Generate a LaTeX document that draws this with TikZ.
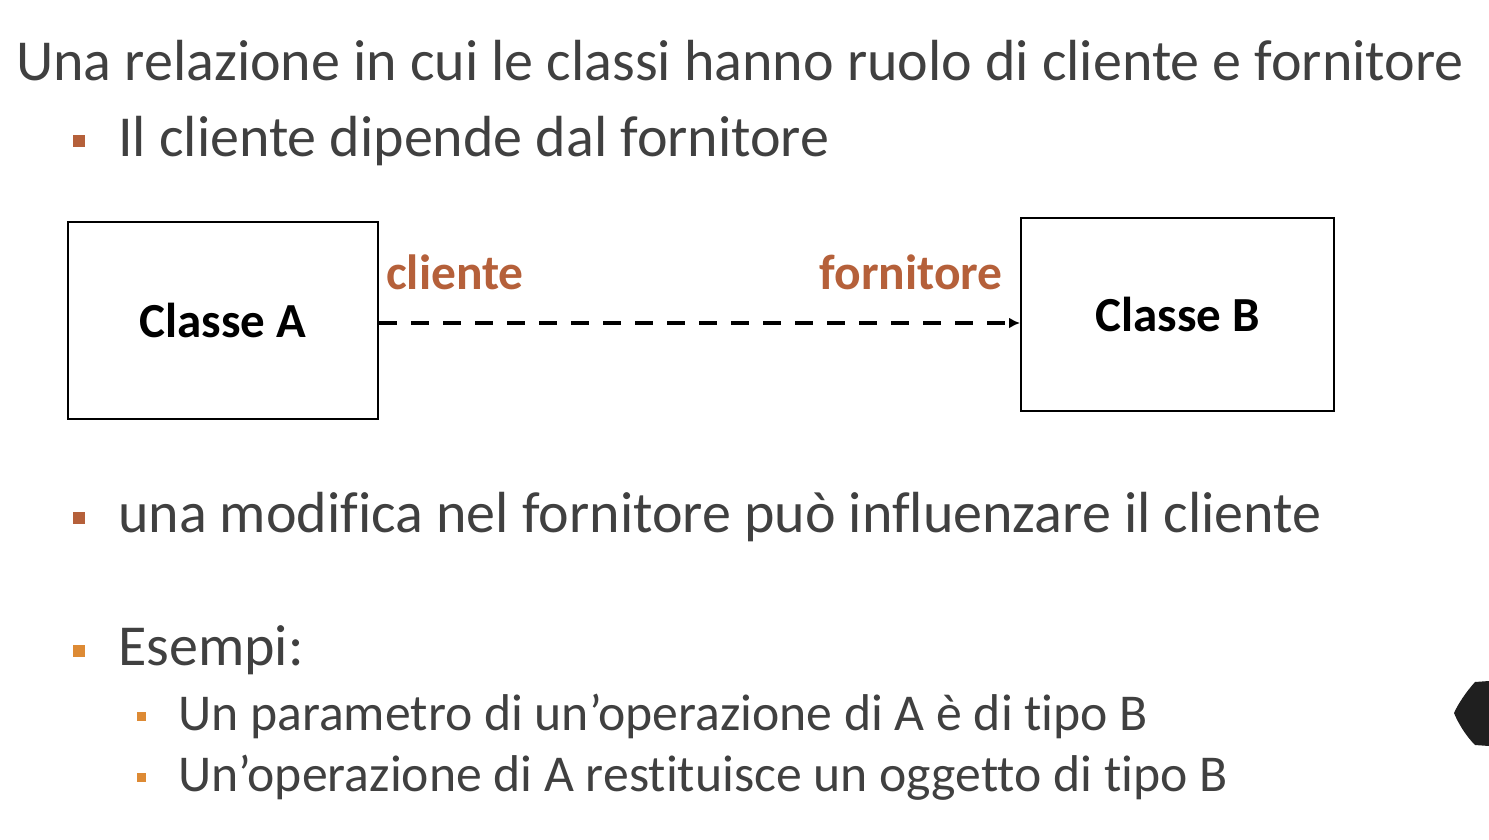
\documentclass[tikz,border=0pt]{standalone}
\usepackage{fontspec}
\setmainfont[Ligatures={NoCommon}]{Carlito}
\usetikzlibrary{arrows.meta}

\definecolor{testo}{HTML}{404040}
\definecolor{ruggine}{HTML}{B5603A}
\definecolor{arancio}{HTML}{DD8A34}

\tikzset{
  riga/.style={anchor=base west, inner sep=0pt, text=testo, font=\fontsize{58}{66}\selectfont},
  sottoriga/.style={anchor=base west, inner sep=0pt, text=testo, font=\fontsize{51.7}{60}\selectfont},
  puntoA/.style={fill=ruggine, minimum size=12pt, inner sep=0pt},
  puntoB/.style={fill=arancio, minimum size=12pt, inner sep=0pt},
  puntoC/.style={fill=arancio, minimum size=9pt, inner sep=0pt},
  classe/.style={draw, line width=2pt, font=\bfseries\fontsize{49}{56}\selectfont, inner sep=0pt},
  ruolo/.style={inner sep=0pt, text=ruggine, font=\bfseries\fontsize{49.5}{56}\selectfont},
  dipendenza/.style={line width=3.2pt, dash pattern=on 18pt off 14pt, -{Latex[length=11pt,width=11pt]}}
}

\begin{document}
\begin{tikzpicture}[x=1pt,y=-1pt]
\useasboundingbox (0,0) rectangle (1489,839);
\node[riga] (titolo) at (16,80) {Una relazione in cui le classi hanno ruolo di cliente e fornitore};
\node[puntoA] (p1) at (79,141) {};
\node[riga] (r1) at (118,156) {Il cliente dipende dal fornitore};

\node[classe, minimum width=310pt, minimum height=197pt] (A) at (223,320.5) {Classe A};
\node[classe, minimum width=313pt, minimum height=193pt] (B) at (1177.5,314.5) {Classe B};
\draw[dipendenza] ([yshift=-2.5pt]A.east) -- ([yshift=-2.5pt]A.east -| B.west);
\node[ruolo, anchor=base west] (cli) at (386,289) {cliente};
\node[ruolo, anchor=base east] (forn) at (1003,289) {fornitore};

\node[puntoA] (p2) at (79,518) {};
\node[riga] (r2) at (118,532) {una modifica nel fornitore può influenzare il cliente};
\node[puntoB] (p3) at (79,651) {};
\node[riga] (r3) at (118,665) {Esempi:};
\node[puntoC] (p4) at (141.5,716.5) {};
\node[sottoriga] (r4) at (178,730) {Un parametro di un’operazione di A è di tipo B};
\node[puntoC] (p5) at (141.5,777.5) {};
\node[sottoriga] (r5) at (178,791) {Un’operazione di A restituisce un oggetto di tipo B};

% forma nera sul bordo
\fill[black!88] (1489,681) -- (1475,682) .. controls (1466,692) and (1458,704) .. (1454,713)
  .. controls (1458,723) and (1466,736) .. (1475,745) -- (1489,746) -- cycle;
\end{tikzpicture}
\end{document}
